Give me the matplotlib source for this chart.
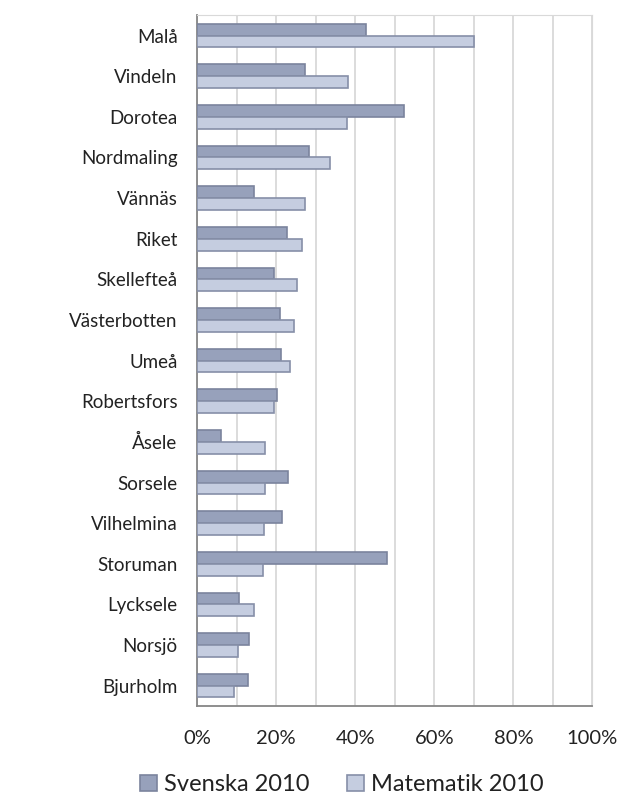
import numpy as np
import matplotlib.pyplot as plt
from matplotlib.ticker import MultipleLocator, PercentFormatter

plt.rcParams['font.family'] = ['Lato', 'DejaVu Sans']

kommuner = ['Malå', 'Vindeln', 'Dorotea', 'Nordmaling', 'Vännäs', 'Riket',
            'Skellefteå', 'Västerbotten', 'Umeå', 'Robertsfors', 'Åsele',
            'Sorsele', 'Vilhelmina', 'Storuman', 'Lycksele', 'Norsjö', 'Bjurholm']
svenska = [42.7, 27.2, 52.3, 28.4, 14.5, 22.8, 19.4, 21.1, 21.3, 20.3, 6.0,
           23.0, 21.5, 48.0, 10.5, 13.2, 13.0]
matematik = [70.1, 38.1, 37.9, 33.7, 27.3, 26.6, 25.4, 24.5, 23.6, 19.4, 17.1,
             17.1, 16.9, 16.7, 14.4, 10.3, 9.3]

fig = plt.figure(figsize=(6.44, 8.05), dpi=100)
ax = fig.add_axes([0.306, 0.123, 0.614, 0.858])

y = np.arange(len(kommuner))
h = 0.29
ax.barh(y - h / 2, svenska, height=h, color='#97a1bb', edgecolor='#7b849d',
        linewidth=1.2, label='Svenska 2010', zorder=3)
ax.barh(y + h / 2, matematik, height=h, color='#c5cde0', edgecolor='#868fa8',
        linewidth=1.2, label='Matematik 2010', zorder=3)

ax.set_xlim(0, 100)
ax.set_ylim(len(kommuner) - 0.5, -0.5)
ax.set_yticks(y)
ax.set_yticklabels(kommuner, fontsize=13.5, color='#222222')
ax.xaxis.set_major_locator(MultipleLocator(20))
ax.xaxis.set_minor_locator(MultipleLocator(10))
ax.xaxis.set_major_formatter(PercentFormatter(decimals=0))
ax.tick_params(axis='x', which='both', length=0, pad=17, labelsize=14.5, labelcolor='#222222')
ax.tick_params(axis='y', length=0, pad=14)
ax.grid(axis='x', which='both', color='#d9d9d9', linewidth=1.3, zorder=0)

for s in ['top', 'right']:
    ax.spines[s].set_color('#d9d9d9')
for s in ['left', 'bottom']:
    ax.spines[s].set_color('#868686')
    ax.spines[s].set_linewidth(1.3)

ax.legend(loc='upper center', bbox_to_anchor=(0.366, -0.068), ncol=2, frameon=False,
          fontsize=17, handlelength=0.7, handleheight=0.7, handletextpad=0.3,
          columnspacing=1.6, labelcolor='#222222')

fig.savefig('out.png')
